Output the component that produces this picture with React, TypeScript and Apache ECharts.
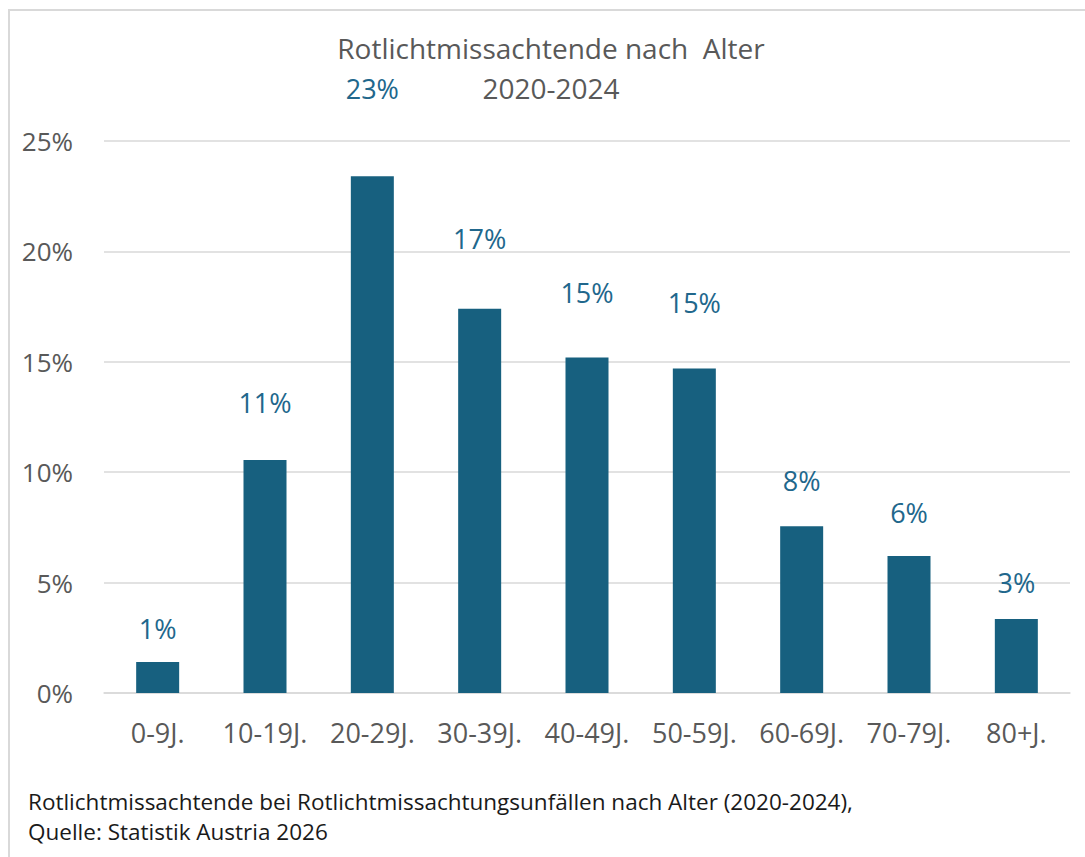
import React, { useEffect, useRef } from "react";
import * as echarts from "echarts";

const categories = ["0-9J.", "10-19J.", "20-29J.", "30-39J.", "40-49J.", "50-59J.", "60-69J.", "70-79J.", "80+J."];
const shares = [1.4, 10.55, 23.4, 17.4, 15.2, 14.7, 7.55, 6.2, 3.35];
const labelTexts = ["1%", "11%", "23%", "17%", "15%", "15%", "8%", "6%", "3%"];
// manual label lift above bar top (px), as placed in the original
const labelLift = [19, 43, 73, 55, 50, 51, 31, 29, 22];
const yTicks = { min: 0, max: 25, interval: 5 };
const titleLine1 = "Rotlichtmissachtende nach  Alter";
const titleLine2 = "2020-2024";
const footer1 = "Rotlichtmissachtende bei Rotlichtmissachtungsunfällen nach Alter (2020-2024),";
const footer2 = "Quelle: Statistik Austria 2026";

const FONT = "'Open Sans', sans-serif";

export default function App() {
  const ref = useRef<HTMLDivElement>(null);
  useEffect(() => {
    if (!ref.current) return;
    const chart = echarts.init(ref.current, undefined, { renderer: "svg" });
    chart.setOption({
      animation: false,
      backgroundColor: "#ffffff",
      textStyle: { fontFamily: FONT },
      grid: { left: 104, right: 15, top: 141, bottom: 164 },
      xAxis: {
        type: "category",
        data: categories,
        axisLine: { lineStyle: { color: "#d9d9d9", width: 1.5 } },
        axisTick: { show: false },
        axisLabel: { color: "#595959", fontSize: 27, fontFamily: FONT, margin: 26, interval: 0, hideOverlap: false },
      },
      yAxis: {
        type: "value",
        min: yTicks.min,
        max: yTicks.max,
        interval: yTicks.interval,
        axisLine: { show: false },
        axisTick: { show: false },
        splitLine: { lineStyle: { color: "#d9d9d9", width: 1.5 } },
        axisLabel: { color: "#595959", fontSize: 26, fontFamily: FONT, margin: 31, formatter: "{value}%" },
      },
      series: [
        {
          type: "bar",
          barWidth: 43,
          itemStyle: { color: "#17607f" },
          data: shares.map((v, i) => ({
            value: v,
            label: {
              show: true,
              position: "top",
              distance: 0,
              offset: [0, -labelLift[i]],
              formatter: labelTexts[i],
              color: "#21678c",
              fontSize: 27,
              fontFamily: FONT,
              lineHeight: 30,
            },
          })),
        },
      ],
      graphic: [
        {
          type: "rect",
          shape: { x: 9, y: 10, width: 1200, height: 1000 },
          style: { fill: "none", stroke: "#d9d9d9", lineWidth: 2 },
          silent: true,
        },
        {
          type: "text",
          x: 551,
          y: 48,
          style: { text: titleLine1, fill: "#595959", font: `28px ${FONT}`, textAlign: "center", textVerticalAlign: "middle" },
        },
        {
          type: "text",
          x: 551,
          y: 88,
          style: { text: titleLine2, fill: "#595959", font: `28px ${FONT}`, textAlign: "center", textVerticalAlign: "middle" },
        },
        {
          type: "text",
          x: 28,
          y: 801,
          style: { text: footer1, fill: "#1a1a1a", font: `22.5px ${FONT}`, textAlign: "left", textVerticalAlign: "middle" },
        },
        {
          type: "text",
          x: 28,
          y: 831,
          style: { text: footer2, fill: "#1a1a1a", font: `22.5px ${FONT}`, textAlign: "left", textVerticalAlign: "middle" },
        },
      ],
    });
    return () => chart.dispose();
  }, []);
  return <div ref={ref} style={{ position: "fixed", left: 0, top: 0, width: 1085, height: 857 }} />;
}
